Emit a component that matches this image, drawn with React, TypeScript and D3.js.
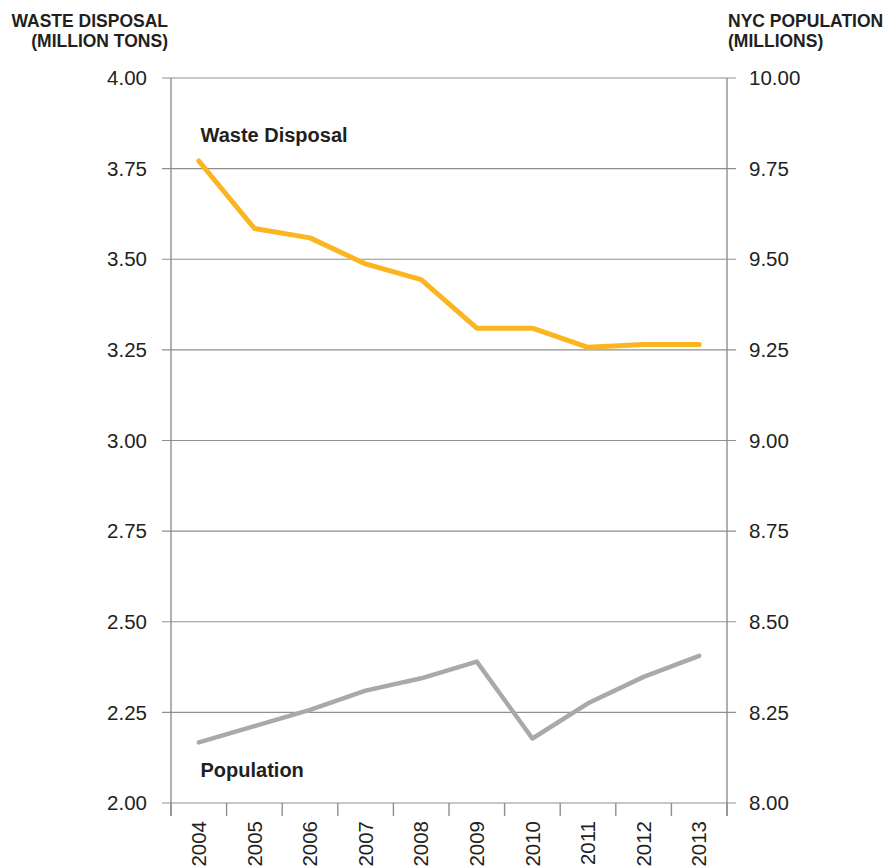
import React from "react";
import * as d3 from "d3";

const years = ["2004", "2005", "2006", "2007", "2008", "2009", "2010", "2011", "2012", "2013"];
const wasteDisposal = [3.771, 3.585, 3.559, 3.487, 3.444, 3.31, 3.31, 3.257, 3.265, 3.265];
const population = [8.167, 8.212, 8.257, 8.31, 8.344, 8.39, 8.178, 8.275, 8.348, 8.406];
const leftTicks = [2.0, 2.25, 2.5, 2.75, 3.0, 3.25, 3.5, 3.75, 4.0];
const rightTicks = [8.0, 8.25, 8.5, 8.75, 9.0, 9.25, 9.5, 9.75, 10.0];

const W = 892;
const H = 867;
const L = 171;
const R = 727;
const T = 78;
const B = 803;

const FONT = "'Liberation Sans', Arial, Helvetica, sans-serif";
const TEXT = "#231f20";
const GRID = "#8f8f8f";

export default function App() {
  const x = d3.scaleBand<string>().domain(years).range([L, R]).padding(0);
  const yL = d3.scaleLinear().domain([2, 4]).range([B, T]);
  const yR = d3.scaleLinear().domain([8, 10]).range([B, T]);
  const cx = (d: string) => (x(d) as number) + x.bandwidth() / 2;

  const wasteLine = d3
    .line<number>()
    .x((_, i) => cx(years[i]))
    .y((d) => yL(d));
  const popLine = d3
    .line<number>()
    .x((_, i) => cx(years[i]))
    .y((d) => yR(d));

  const boundaries = years.map((d) => x(d) as number).concat([R]);

  return (
    <svg
      width={W}
      height={H}
      style={{ position: "absolute", left: 0, top: 0, background: "#fff" }}
      fontFamily={FONT}
    >
      {/* gridlines */}
      {leftTicks.map((t) => (
        <line key={"g" + t} x1={L - 9} x2={R + 9} y1={yL(t)} y2={yL(t)} stroke={GRID} strokeWidth={1.2} />
      ))}
      {/* axes */}
      <line x1={L} x2={L} y1={T} y2={B + 13} stroke={GRID} strokeWidth={1.4} />
      <line x1={R} x2={R} y1={T} y2={B + 13} stroke={GRID} strokeWidth={1.4} />
      {boundaries.map((b, i) => (
        <line key={"t" + i} x1={b} x2={b} y1={B} y2={B + 13} stroke={GRID} strokeWidth={1.4} />
      ))}
      {/* left tick labels */}
      {leftTicks.map((t) => (
        <text key={"l" + t} x={147} y={yL(t)} dy="0.35em" textAnchor="end" fontSize={20.5} fill={TEXT} fontWeight={300}>
          {t.toFixed(2)}
        </text>
      ))}
      {rightTicks.map((t) => (
        <text key={"r" + t} x={749} y={yR(t)} dy="0.35em" textAnchor="start" fontSize={20.5} fill={TEXT} fontWeight={300}>
          {t.toFixed(2)}
        </text>
      ))}
      {/* year labels */}
      {years.map((d) => (
        <text
          key={"y" + d}
          transform={`translate(${cx(d)},${821}) rotate(-90)`}
          textAnchor="end"
          dy="0.35em"
          fontSize={20.5}
          fill={TEXT}
        >
          {d}
        </text>
      ))}
      {/* axis titles */}
      <text x={168} y={26.5} textAnchor="end" fontSize={17.5} fontWeight={700} fill={TEXT}>
        WASTE DISPOSAL
      </text>
      <text x={168} y={46.5} textAnchor="end" fontSize={17.5} fontWeight={700} fill={TEXT}>
        (MILLION TONS)
      </text>
      <text x={728} y={26.5} textAnchor="start" fontSize={17.5} fontWeight={700} fill={TEXT}>
        NYC POPULATION
      </text>
      <text x={728} y={46.5} textAnchor="start" fontSize={17.5} fontWeight={700} fill={TEXT}>
        (MILLIONS)
      </text>
      {/* lines */}
      <path d={wasteLine(wasteDisposal) || ""} fill="none" stroke="#fbb520" strokeWidth={5} strokeLinecap="round" strokeLinejoin="round" />
      <path d={popLine(population) || ""} fill="none" stroke="#a7a9ac" strokeWidth={4.5} strokeLinecap="round" strokeLinejoin="round" />
      {/* series labels */}
      <text x={200.5} y={142.3} fontSize={20} fontWeight={600} fill={TEXT}>
        Waste Disposal
      </text>
      <text x={200.5} y={776.7} fontSize={20} fontWeight={600} fill={TEXT}>
        Population
      </text>
    </svg>
  );
}
